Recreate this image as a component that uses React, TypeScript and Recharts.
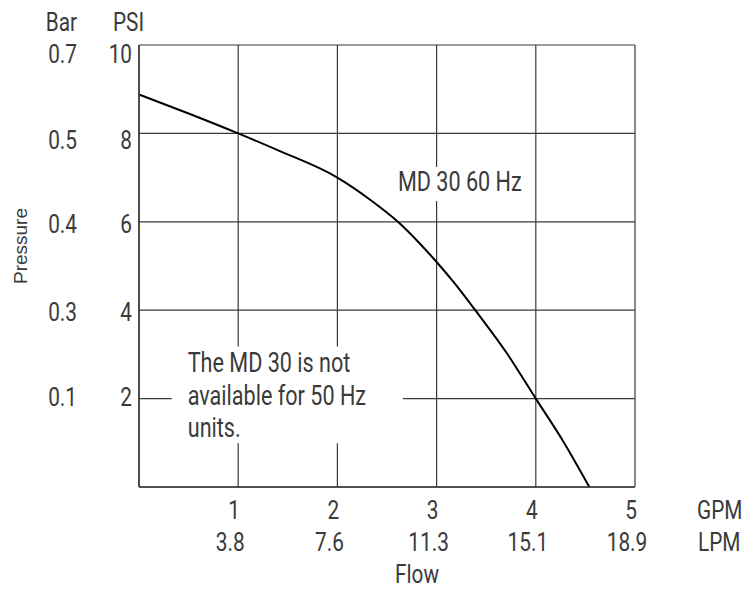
import React from "react";
import {
  LineChart,
  Line,
  XAxis,
  YAxis,
  CartesianGrid,
  ReferenceArea,
} from "recharts";

// Flow in GPM and pressure in PSI
const flowGpm = [0, 0.5, 1, 1.42, 2, 2.33, 2.61, 2.83, 3, 3.17, 3.39, 3.71, 4, 4.28, 4.54];
const pressurePsi = [8.88, 8.45, 8.0, 7.6, 7.0, 6.5, 6.0, 5.51, 5.09, 4.64, 4.0, 3.02, 2.0, 1.02, 0];

// Axis tick labels
const gpmTicks = [1, 2, 3, 4, 5];
const lpmLabels = ["3.8", "7.6", "11.3", "15.1", "18.9"];
const psiTicks = [2, 4, 6, 8, 10];
const barLabels = ["0.1", "0.3", "0.4", "0.5", "0.7"];

const curveName = "MD 30 60 Hz";
const noteLines = ["The MD 30 is not", "available for 50 Hz", "units."];

const data = flowGpm.map((g, i) => ({ gpm: g, psi: pressurePsi[i] }));

const FONT = "Roboto, 'Liberation Sans', sans-serif";
const TXT = "#3a3a3a";
const SX = 0.8;

const CText = (p: {
  x: number;
  y: number;
  size?: number;
  anchor?: "start" | "middle" | "end";
  children: React.ReactNode;
}) => (
  <text
    x={0}
    y={0}
    transform={`translate(${p.x},${p.y}) scale(${SX},1)`}
    textAnchor={p.anchor || "start"}
    fontSize={p.size || 26}
    fontWeight={400}
    fill={TXT}
    fontFamily={FONT}
  >
    {p.children}
  </text>
);

const XTick = (props: any) => {
  const { x, y, payload } = props;
  const idx = gpmTicks.indexOf(payload.value);
  return (
    <g>
      <CText x={x - 4} y={y + 32} anchor="middle">
        {String(payload.value)}
      </CText>
      <CText x={x - 8} y={y + 64} anchor="middle">
        {lpmLabels[idx]}
      </CText>
    </g>
  );
};

const yOffsets: Record<number, number> = { 2: 7, 4: 11, 6: 11, 8: 16, 10: 18 };

const YTick = (props: any) => {
  const { y, payload } = props;
  const idx = psiTicks.indexOf(payload.value);
  const dy = yOffsets[payload.value] ?? 9;
  return (
    <g>
      <CText x={132} y={y + dy} anchor="end">
        {String(payload.value)}
      </CText>
      <CText x={77} y={y + dy} anchor="end">
        {barLabels[idx]}
      </CText>
    </g>
  );
};

const NoteLabel = (props: any) => {
  const vb = props.viewBox || {};
  return (
    <g>
      {noteLines.map((t, i) => (
        <CText key={i} x={vb.x + 16} y={vb.y + 26 + i * 32.5} size={27}>
          {t}
        </CText>
      ))}
    </g>
  );
};

const CurveLabel = (props: any) => {
  const vb = props.viewBox || {};
  return (
    <CText x={vb.x + 3} y={vb.y + 24} size={27}>
      {curveName}
    </CText>
  );
};

export default function App() {
  return (
    <div style={{ position: "absolute", left: 0, top: 0, width: 750, height: 590, background: "#fff" }}>
      <LineChart
        width={750}
        height={590}
        data={data}
        margin={{ top: 45, right: 115, bottom: 43, left: 79 }}
      >
        <CartesianGrid stroke="#3a3a3a" strokeWidth={1.2} />
        <XAxis
          dataKey="gpm"
          type="number"
          domain={[0, 5]}
          ticks={gpmTicks}
          height={60}
          tickSize={0}
          tickMargin={0}
          tickLine={false}
          axisLine={{ stroke: "#3a3a3a", strokeWidth: 1.5 }}
          tick={<XTick />}
          interval={0}
        />
        <YAxis
          type="number"
          domain={[0, 10]}
          ticks={psiTicks}
          width={60}
          tickSize={0}
          tickMargin={0}
          tickLine={false}
          axisLine={{ stroke: "#3a3a3a", strokeWidth: 1.5 }}
          tick={<YTick />}
          interval={0}
        />
        <ReferenceArea
          x1={0.33}
          x2={2.66}
          y1={0.99}
          y2={3.18}
          fill="#fff"
          fillOpacity={1}
          stroke="none"
          label={<NoteLabel />}
        />
        <ReferenceArea
          x1={2.58}
          x2={3.86}
          y1={6.47}
          y2={7.24}
          fill="#fff"
          fillOpacity={1}
          stroke="none"
          label={<CurveLabel />}
        />
        <Line
          type="monotone"
          dataKey="psi"
          stroke="#000"
          strokeWidth={2}
          dot={false}
          isAnimationActive={false}
        />
        <CText x={77} y={31} anchor="end">Bar</CText>
        <CText x={113} y={31}>PSI</CText>
        <CText x={697} y={519}>GPM</CText>
        <CText x={698} y={551}>LPM</CText>
        <CText x={395} y={583} size={26}>Flow</CText>
        <text
          x={27}
          y={246}
          transform="rotate(-90 27 246)"
          textAnchor="middle"
          fontSize={19}
          fill={TXT}
          fontFamily="'Liberation Sans', Arial, sans-serif"
        >
          Pressure
        </text>
      </LineChart>
    </div>
  );
}
